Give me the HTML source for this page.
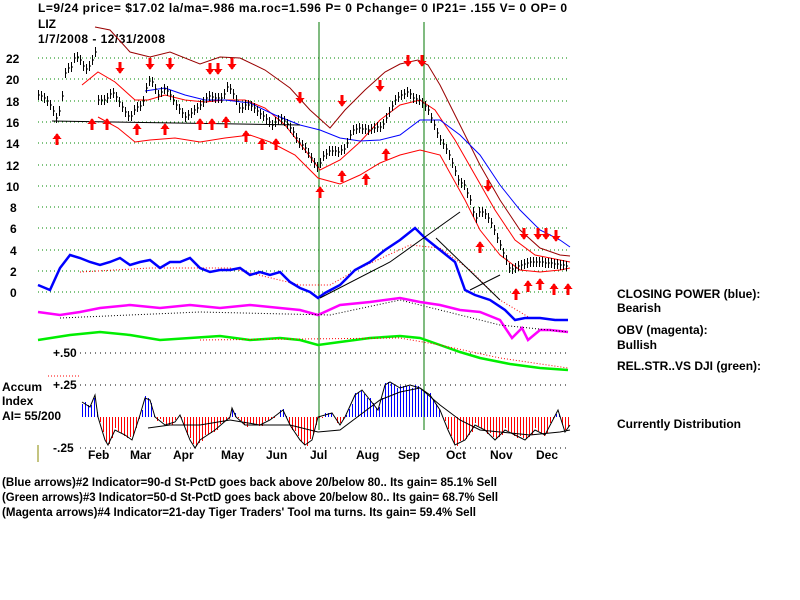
<!DOCTYPE html>
<html><head><meta charset="utf-8">
<style>
body{margin:0;background:#fff;width:800px;height:600px;overflow:hidden}
svg{display:block}
text{font-family:"Liberation Sans",sans-serif;font-weight:bold;font-size:12px;fill:#000}
</style></head><body>
<svg id="s" width="800" height="600" xmlns="http://www.w3.org/2000/svg">
<text x="38" y="12" font-size="13" textLength="529" lengthAdjust="spacing">L=9/24  price= $17.02  la/ma=.986  ma.roc=1.596 P=  0 Pchange=  0 IP21= .155 V= 0 OP= 0</text>
<text x="38" y="28" font-size="13">LIZ</text>
<text x="38" y="43" font-size="13" textLength="127">1/7/2008 - 12/31/2008</text>
<g id="g" shape-rendering="crispEdges"></g>
<text x="617" y="298">CLOSING POWER (blue):</text>
<text x="617" y="312">Bearish</text>
<text x="617" y="334">OBV (magenta):</text>
<text x="617" y="349">Bullish</text>
<text x="617" y="370">REL.STR..VS DJI (green):</text>
<text x="617" y="428">Currently Distribution</text>
<text x="2" y="391">Accum</text>
<text x="2" y="405">Index</text>
<text x="2" y="420">AI= 55/200</text>
<text x="53" y="389">+.25</text>
<text x="53" y="452">-.25</text>
<text x="53" y="357">+.50</text>
<text x="2" y="486" textLength="495" lengthAdjust="spacingAndGlyphs">(Blue arrows)#2 Indicator=90-d St-PctD goes back above 20/below 80..  Its gain= 85.1% Sell</text>
<text x="2" y="501" textLength="496" lengthAdjust="spacingAndGlyphs">(Green arrows)#3 Indicator=50-d St-PctD goes back above 20/below 80..  Its gain= 68.7% Sell</text>
<text x="2" y="516" textLength="474" lengthAdjust="spacingAndGlyphs">(Magenta arrows)#4 Indicator=21-day Tiger Traders' Tool ma turns.  Its gain= 59.4% Sell</text>
</svg>
<script>
const g=document.getElementById('g');let h='';
const P=a=>a.map(p=>p.join(',')).join(' ');
const pl=(a,c,w,d)=>h+=`<polyline points="${P(a)}" fill="none" stroke="${c}" stroke-width="${w}" shape-rendering="auto" ${d?'stroke-dasharray="'+d+'"':''}/>`;
[22,20,18,16,14,12,10,8,6,4,2,0].forEach((v,i)=>{let y=Math.round(58+i*21.3);h+=`<line x1="38" x2="570" y1="${y}" y2="${y}" stroke="#080" stroke-dasharray="1,3"/>`;h+=`<text x="${v>=10?6:10}" y="${y+5}" font-size="13">${v}</text>`;});
[353,385,448].forEach(y=>h+=`<line x1="80" x2="570" y1="${y}" y2="${y}" stroke="#000" stroke-dasharray="1,4"/>`);
h+=`<line x1="48" x2="80" y1="376" y2="376" stroke="red" stroke-dasharray="1,2"/>`;
h+=`<line x1="38" x2="38" y1="445" y2="462" stroke="#880"/>`;
[319,424].forEach(x=>h+=`<line x1="${x}" x2="${x}" y1="22" y2="430" stroke="#070"/>`);
const acc=[[82,402],[90,407],[95,395],[98,417],[105,440],[108,445],[115,430],[125,435],[132,440],[140,415],[145,398],[150,400],[155,417],[165,425],[175,422],[180,415],[190,440],[195,448],[200,440],[215,430],[230,417],[232,408],[236,417],[245,425],[260,425],[270,420],[283,410],[290,425],[300,440],[305,445],[312,440],[318,417],[325,415],[332,413],[340,425],[345,417],[355,395],[362,390],[370,400],[378,410],[385,385],[390,382],[400,388],[410,385],[420,388],[430,395],[440,410],[448,430],[455,445],[465,440],[475,425],[485,430],[495,440],[505,430],[515,435],[525,440],[535,430],[545,435],[558,410],[565,432],[570,425]];
function interp(a,x){for(let i=1;i<a.length;i++)if(x<=a[i][0]){let t=(x-a[i-1][0])/(a[i][0]-a[i-1][0]);return a[i-1][1]+t*(a[i][1]-a[i-1][1]);}return a[a.length-1][1];}
for(let x=82;x<=570;x+=3){let y=Math.round(interp(acc,x)+((x*7)%5-2));h+=`<line x1="${x+.5}" x2="${x+.5}" y1="417" y2="${y}" stroke="${y<417?'#00f':'#f00'}"/>`;}
pl(acc,'#000',1);
pl([[148,428],[170,425],[200,425],[230,420],[260,425],[290,425],[318,432],[340,430],[360,415],[380,400],[400,392],[420,388],[440,405],[460,420],[480,430],[500,432],[530,435],[560,432],[570,430]],'#000',1);
[['Feb',88],['Mar',130],['Apr',173],['May',221],['Jun',266],['Jul',310],['Aug',356],['Sep',398],['Oct',446],['Nov',490],['Dec',536]].forEach(m=>h+=`<text x="${m[1]}" y="459" font-size="13">${m[0]}</text>`);
pl([[95,27],[110,30],[130,52],[150,57],[170,52],[200,64],[220,57],[240,58],[265,70],[290,88],[310,110],[330,128],[345,110],[365,90],[385,72],[400,64],[418,60],[428,65],[440,85],[460,125],[480,165],[500,200],[520,230],[540,248],[560,255],[570,256]],'#900',1);
pl([[82,85],[98,72],[115,82],[135,100],[148,100],[165,95],[185,100],[205,102],[225,100],[245,100],[265,108],[285,125],[305,150],[320,170],[340,160],[360,142],[380,120],[400,105],[420,100],[435,110],[455,140],[475,175],[495,210],[515,240],[535,255],[560,260],[570,262]],'#f00',1);
pl([[98,117],[118,128],[135,142],[150,140],[175,138],[200,142],[225,138],[250,135],[270,142],[295,155],[318,178],[340,184],[360,175],[380,163],[400,155],[420,150],[440,155],[465,200],[480,230],[500,255],[520,270],[540,272],[560,270],[570,268]],'#f00',1);
pl([[145,91],[165,88],[185,95],[205,100],[225,100],[250,103],[275,115],[300,125],[320,130],[340,138],[360,141],[380,140],[400,135],[420,120],[440,120],[460,135],[480,155],[500,185],[520,210],[540,230],[560,240],[570,247]],'#00f',1);
pl([[52,121],[300,125]],'#000',1);
const pr=[[38,95],[45,98],[52,108],[56,118],[60,108],[63,90],[66,65],[70,70],[75,55],[80,60],[85,70],[90,65],[95,52],[98,100],[105,100],[112,92],[118,100],[125,112],[130,118],[135,108],[142,105],[148,80],[152,82],[158,95],[165,88],[170,95],[178,108],[185,117],[192,112],[200,105],[208,96],[215,98],[222,98],[228,85],[235,98],[240,110],[245,105],[252,106],[258,112],[265,118],[272,125],[280,118],[285,122],[292,130],[298,142],[305,148],[312,160],[318,168],[322,157],[330,150],[338,152],[345,148],[352,130],[360,128],[368,130],[375,128],[382,126],[390,110],[395,100],[400,95],[408,92],[413,98],[420,100],[428,110],[434,125],[440,140],[447,150],[453,165],[458,180],[464,185],[470,200],[475,220],[480,210],[486,215],[492,225],[498,240],[504,255],[510,270],[515,268],[520,265],[530,262],[540,262],[550,263],[560,265],[568,266]];
for(let x=38;x<=568;x+=3){let y=Math.round(interp(pr,x));h+=`<line x1="${x+.5}" x2="${x+.5}" y1="${y-5}" y2="${y+5}" stroke="#000"/><line x1="${x}" x2="${x+2}" y1="${y}" y2="${y}" stroke="#000"/>`;}
pl([[80,272],[150,268],[230,268],[300,285],[330,285],[360,268],[410,245],[440,248],[470,270],[500,300],[530,318],[568,320]],'#f00',1,'1,2');
pl([[38,285],[50,290],[60,268],[70,255],[80,258],[90,262],[100,265],[110,262],[120,258],[130,265],[140,262],[150,260],[160,268],[170,262],[180,262],[190,258],[200,268],[210,272],[220,270],[230,270],[240,268],[250,275],[260,272],[270,275],[280,272],[290,282],[300,288],[310,292],[318,298],[325,293],[340,285],[355,270],[370,262],[385,250],[400,240],[415,228],[425,238],[440,250],[455,262],[465,290],[475,295],[490,300],[505,310],[515,320],[525,318],[540,318],[555,320],[568,320]],'#00f',2.5);
pl([[38,312],[60,315],[80,312],[100,308],[130,305],[160,308],[190,305],[220,308],[250,305],[280,308],[300,310],[318,315],[340,305],[370,302],[400,298],[420,302],[440,305],[460,310],[480,312],[500,320],[512,338],[522,328],[528,340],[540,330],[550,330],[568,332]],'#f0f',2.5);
pl([[60,318],[200,312],[330,315],[400,300],[440,310],[500,325],[568,332]],'#000',1,'1,2');
pl([[38,340],[70,335],[100,332],[130,335],[160,340],[190,338],[220,336],[250,340],[280,338],[300,340],[318,345],[340,342],[370,338],[400,336],[420,338],[440,345],[460,352],[480,358],[510,364],[540,368],[568,370]],'#0e0',2.5);
pl([[200,340],[400,338],[440,345],[500,358],[568,368]],'#f00',1,'1,2');
pl([[320,298],[390,262],[460,212]],'#000',1);pl([[470,290],[500,275]],'#000',1);pl([[436,238],[500,300]],'#000',1);
const dn=[[120,72],[150,68],[170,68],[210,73],[218,73],[232,68],[300,102],[342,105],[380,90],[408,65],[422,65],[488,190],[524,238],[538,238],[546,238],[556,240]];
const up=[[57,135],[92,120],[107,120],[137,125],[165,125],[200,120],[212,120],[226,118],[246,132],[262,140],[276,140],[320,188],[342,172],[366,175],[386,150],[480,243],[516,290],[528,282],[540,280],[554,285],[568,285]];
dn.forEach(a=>h+=`<path d="M${a[0]-1.5},${a[1]-10}h3v6h3l-4.5,6l-4.5,-6h3z" fill="#f00"/>`);
up.forEach(a=>h+=`<path d="M${a[0]-1.5},${a[1]+10}h3v-6h3l-4.5,-6l-4.5,6h3z" fill="#f00"/>`);
g.innerHTML=h;
</script>
</body></html>
